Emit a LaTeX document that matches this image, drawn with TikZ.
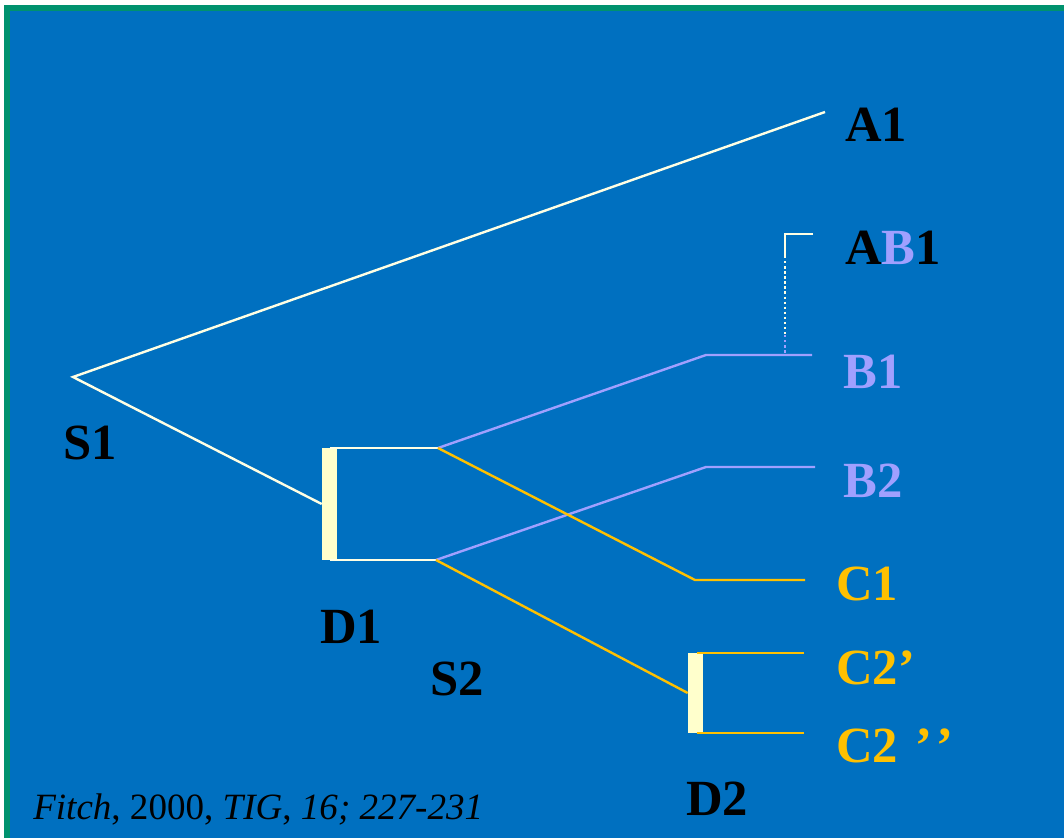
\documentclass[tikz,border=0pt]{standalone}
\usepackage{fontspec}
\setmainfont{Liberation Serif}
\definecolor{slideblue}{RGB}{0,112,192}
\definecolor{slidegreen}{RGB}{0,146,110}
\definecolor{genepurple}{RGB}{160,160,255}
\definecolor{genegold}{RGB}{255,192,0}
\definecolor{dupbar}{RGB}{255,255,204}
\definecolor{branchwhite}{RGB}{255,255,228}
\tikzstyle{whitebranch} = [draw=branchwhite, line width=1.8pt]
\tikzstyle{purplebranch} = [draw=genepurple, line width=1.8pt]
\tikzstyle{goldbranch} = [draw=genegold, line width=1.8pt]
\tikzstyle{dupbox} = [fill=dupbar, draw=none, inner sep=0pt, minimum width=11.25pt]
\tikzstyle{genelabel} = [font=\fontsize{38}{40}\selectfont\bfseries, inner sep=0pt, anchor=base west]

\begin{document}
\begin{tikzpicture}[x=0.75pt, y=-0.75pt]
    \useasboundingbox (0,0) rectangle (1064,838);
    % slide background
    \fill[slidegreen] (4,5) rectangle (1064,838);
    \fill[slideblue] (10,11) rectangle (1064,838);

    % duplication bars
    \node [dupbox, minimum height=84pt] (D1bar) at (329.5,504) {};
    \node [dupbox, minimum height=60pt] (D2bar) at (695.5,693) {};

    % branch points
    \coordinate (S1pt) at (73,377);
    \coordinate (d1top) at (330,448);
    \coordinate (d1bot) at (330,560);
    \coordinate (s2top) at (438,448);
    \coordinate (s2bot) at (436,560);
    \coordinate (b1in) at (706,355);
    \coordinate (b1out) at (812,355);
    \coordinate (b2in) at (706,467);
    \coordinate (b2out) at (815,467);
    \coordinate (c1in) at (695,580);
    \coordinate (c1out) at (805,580);
    \coordinate (c2ain) at (697,653);
    \coordinate (c2aout) at (804,653);
    \coordinate (c2bin) at (697,733);
    \coordinate (c2bout) at (804,733);
    \coordinate (a1out) at (825,112);
    \coordinate (ab1out) at (813,234);
    \coordinate (ab1corner) at (785,234);
    \coordinate (ab1solid) at (785,256);
    \coordinate (ab1mid) at (785,335);
    \coordinate (ab1foot) at (785,355);

    % labels
    \node [genelabel] (A1) at (845,142) {A1};
    \node [genelabel] (AB1) at (845,264) {A{\color{genepurple}B}1};
    \node [genelabel, text=genepurple] (B1) at (843,388) {B1};
    \node [genelabel, text=genepurple] (B2) at (843,497) {B2};
    \node [genelabel, text=genegold] (C1) at (836,600) {C1};
    \node [genelabel, text=genegold] (C2a) at (836,684) {C2’};
    \node [genelabel, text=genegold] (C2b) at (836,762) {C2\hspace{0.35em}’\hspace{0.08em}’};
    \node [genelabel] (S1) at (63,459) {S1};
    \node [genelabel] (D1) at (320,643) {D1};
    \node [genelabel] (S2) at (430,695) {S2};
    \node [genelabel] (D2) at (686,815) {D2};
    \node [font=\fontsize{27.8}{30}\selectfont, inner sep=0pt, anchor=base west] (cite) at (33,819)
        {\textit{Fitch}, 2000, \textit{TIG}, \textit{16; 227-231}};

    % species tree S1
    \draw [whitebranch] (a1out) -- (S1pt) -- (D1bar.west);
    \draw [whitebranch] (d1top) -- (s2top);
    \draw [whitebranch] (d1bot) -- (s2bot);

    % B lineage
    \draw [purplebranch] (s2top) -- (b1in) -- (b1out);
    \draw [purplebranch] (s2bot) -- (b2in) -- (b2out);

    % C lineage
    \draw [goldbranch] (s2top) -- (c1in) -- (c1out);
    \draw [goldbranch] (s2bot) -- (D2bar.west);
    \draw [goldbranch] (c2ain) -- (c2aout);
    \draw [goldbranch] (c2bin) -- (c2bout);

    % transfer AB1
    \draw [whitebranch] (ab1out) -- (ab1corner) -- (ab1solid);
    \draw [whitebranch, dotted] (ab1solid) -- (ab1mid);
    \draw [purplebranch, dotted] (ab1mid) -- (ab1foot);
\end{tikzpicture}
\end{document}
